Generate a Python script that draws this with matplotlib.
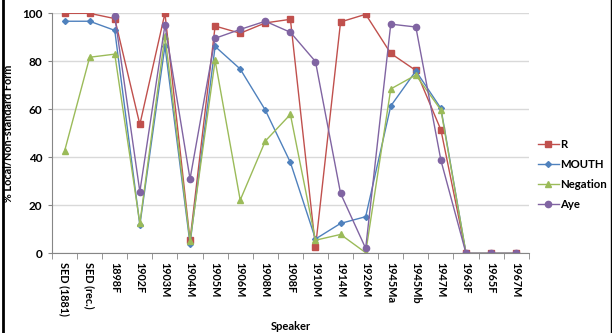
import numpy as np
import matplotlib
matplotlib.use('Agg')
import matplotlib.pyplot as plt
from matplotlib.lines import Line2D

plt.rcParams['font.family'] = ['Lato', 'DejaVu Sans']

# data
speakers = ['SED (1881)', 'SED (rec.)', '1898F', '1902F', '1903M', '1904M', '1905M',
            '1906M', '1908M', '1908F', '1910M', '1914M', '1926M', '1945Ma', '1945Mb',
            '1947M', '1963F', '1965F', '1967M']
r_vals = [100, 100, 97.8, 53.7, 100, 5.5, 94.7, 91.7, 96.0, 97.5, 2.5, 96.4, 99.6,
          83.3, 76.2, 51.4, 0, 0, 0]
mouth_vals = [96.7, 96.7, 92.9, 11.8, 86.4, 4.0, 86.2, 76.8, 59.7, 37.9, 6.0, 12.5, 15.3,
              61.4, 76.0, 60.4, 0, 0, 0]
negation_vals = [42.6, 81.7, 83.0, 12.5, 90.7, 5.0, 80.4, 22.2, 46.8, 57.9, 5.5, 7.9, 0.3,
                 68.5, 74.3, 59.7, 0, 0, 0]
aye_vals = [np.nan, np.nan, 98.9, 25.7, 95.1, 31.0, 89.6, 93.3, 96.7, 92.1, 79.9, 25.0, 2.1,
            95.5, 94.3, 38.7, 0, 0, 0]

fig = plt.figure(figsize=(6.12, 3.33), dpi=100)
ax = fig.add_axes([0.085, 0.239, 0.779, 0.721])

x = np.arange(len(speakers))
ax.plot(x, r_vals, color='#C0504D', lw=1, marker='s', ms=4.5, label='R')
ax.plot(x, mouth_vals, color='#4F81BD', lw=1, marker='D', ms=3, label='MOUTH')
ax.plot(x, negation_vals, color='#9BBB59', lw=1, marker='^', ms=4.5, label='Negation')
ax.plot(x, aye_vals, color='#8064A2', lw=1, marker='o', ms=4.5, label='Aye')

ax.set_xlim(-0.5, len(speakers) - 0.5)
ax.set_ylim(0, 100)
ax.set_yticks([0, 20, 40, 60, 80, 100])
ax.yaxis.grid(True, color='#D9D9D9', lw=1)
ax.set_axisbelow(True)

ax.set_xticks(x)
ax.set_xticklabels(speakers, rotation=270, fontsize=7.8, fontweight='bold')
ax.tick_params(axis='x', which='major', length=0, pad=6)
ax.set_xticks(np.arange(len(speakers) + 1) - 0.5, minor=True)
ax.tick_params(axis='x', which='minor', length=4, color='#868686')
ax.tick_params(axis='y', length=3, color='#868686', labelsize=8.5, pad=4)
for lbl in ax.get_yticklabels():
    lbl.set_fontweight('bold')

for side in ['top', 'right']:
    ax.spines[side].set_visible(False)
for side in ['left', 'bottom']:
    ax.spines[side].set_color('#868686')

ax.set_ylabel('% Local/Non-standard Form', fontsize=7.8, fontweight='bold')
ax.yaxis.set_label_coords(-0.08, 0.5)
ax.set_xlabel('Speaker', fontsize=8, fontweight='bold')
ax.xaxis.set_label_coords(0.5, -0.28)

ax.legend(loc='upper left', bbox_to_anchor=(1.009, 0.497), frameon=False,
          prop={'weight': 'bold', 'size': 8.2}, handlelength=1.9, handletextpad=0.05,
          labelspacing=0.8, borderaxespad=0)

# chart border bits at the edges
fig.add_artist(Line2D([0.005, 0.005], [0, 1], color='black', lw=2, transform=fig.transFigure))
fig.add_artist(Line2D([0.998, 0.998], [0, 1], color='black', lw=1, transform=fig.transFigure))

fig.savefig('out.png', dpi=100)
